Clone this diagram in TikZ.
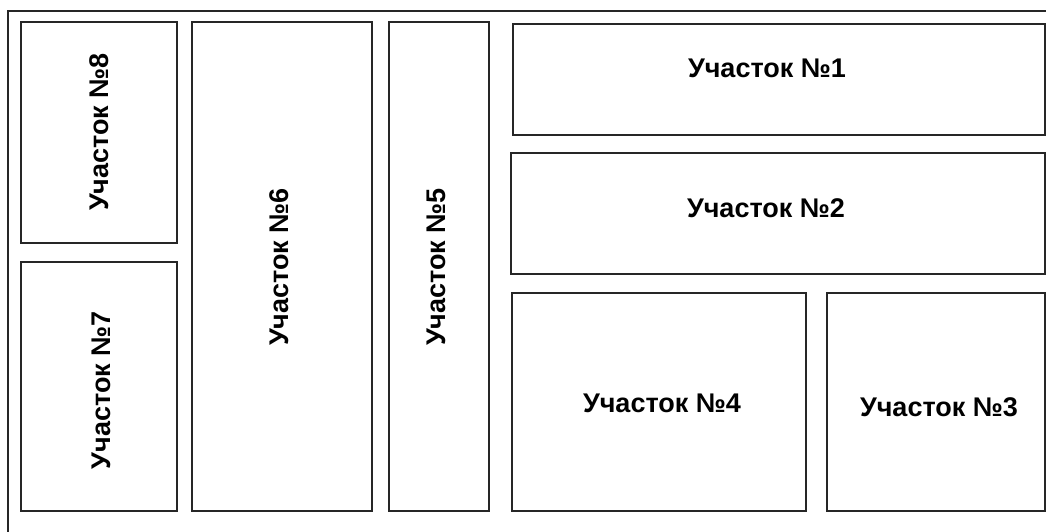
\documentclass[tikz,border=0pt]{standalone}
\usepackage{fontspec}
\setmainfont{Liberation Sans}
\begin{document}
\begin{tikzpicture}[x=1pt,y=-1pt,
  plot/.style={draw=black!85,line width=1.6pt},
  lbl/.style={inner sep=0pt,text height=20pt,text depth=0pt,font=\fontsize{27}{30}\selectfont\bfseries}]
\useasboundingbox (0,0) rectangle (1046,532);
\clip (0,0) rectangle (1046,532);
\draw[plot] (8,11) rectangle (1062,548);
% boxes
\draw[plot] (21,22) rectangle (177,243) node[pos=.5] (b8) {};
\draw[plot] (21,262) rectangle (177,511) node[pos=.5] (b7) {};
\draw[plot] (192,22) rectangle (372,511) node[pos=.5] (b6) {};
\draw[plot] (389,22) rectangle (489,511) node[pos=.5] (b5) {};
\draw[plot] (513,24) rectangle (1045,135) node[pos=.5] (b1) {};
\draw[plot] (511,153) rectangle (1045,274) node[pos=.5] (b2) {};
\draw[plot] (512,293) rectangle (806,511) node[pos=.5] (b4) {};
\draw[plot] (827,293) rectangle (1045,511) node[pos=.5] (b3) {};
% labels
\node[lbl] (t1) at (767,68) {Участок №1};
\node[lbl] (t2) at (766,207) {Участок №2};
\node[lbl] (t4) at (662,402) {Участок №4};
\node[lbl] (t3) at (939,406) {Участок №3};
\node[lbl,rotate=90] (t8) at (98,132) {Участок №8};
\node[lbl,rotate=90] (t7) at (100,390) {Участок №7};
\node[lbl,rotate=90] (t6) at (278,267) {Участок №6};
\node[lbl,rotate=90] (t5) at (435,267) {Участок №5};
\end{tikzpicture}
\end{document}
